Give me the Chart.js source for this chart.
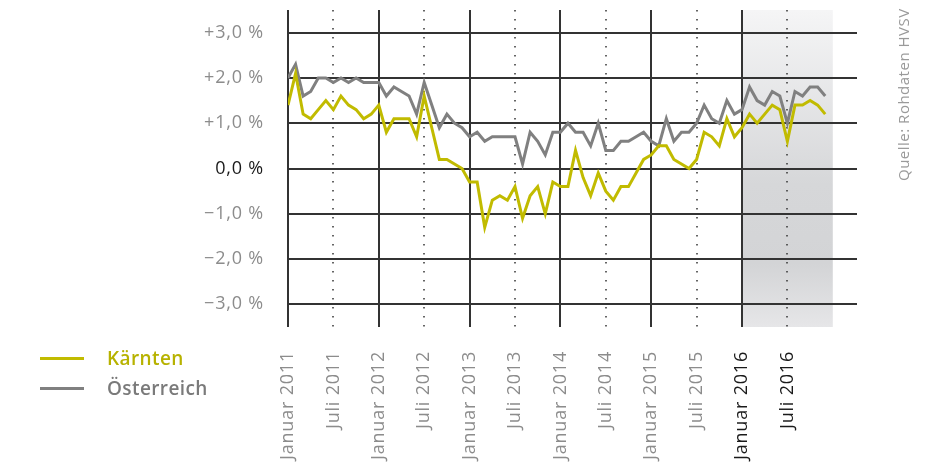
<!DOCTYPE html>
<html lang="de">
<head>
<meta charset="utf-8">
<title>Kärnten / Österreich</title>
<script src="https://cdn.jsdelivr.net/npm/chart.js@4.4.1/dist/chart.umd.min.js"></script>
<style>
  html, body { margin: 0; padding: 0; background: #fff; }
  #wrap { position: relative; width: 928px; height: 465px; overflow: hidden; font-family: 'Open Sans', sans-serif; }
  #chart { position: absolute; left: 0; top: 0; }
  .legend-row { position: absolute; left: 40px; display: flex; align-items: center; font-size: 19px; font-weight: 600;
                letter-spacing: 0.4px; white-space: nowrap; }
  .legend-line { width: 44px; height: 3px; margin-right: 23px; }
  #source { position: absolute; left: 895px; top: 181px; transform: rotate(-90deg); transform-origin: 0 0;
            font-size: 15px; line-height: 16px; letter-spacing: 0.5px; color: #9a9a9a; white-space: nowrap; }
</style>
</head>
<body>
<div id="wrap">
  <canvas id="chart" width="928" height="465"></canvas>
  <div class="legend-row" style="top:345px;color:#b7b200"><div class="legend-line" style="background:#c1bb00"></div>Kärnten</div>
  <div class="legend-row" style="top:375px;color:#7a7a7a"><div class="legend-line" style="background:#808080"></div>Österreich</div>
  <div id="source">Quelle: Rohdaten HVSV</div>
</div>
<script>
// ---- data: monthly change vs. previous year, Jan 2011 .. Dec 2016 ----
const kaernten = [
  1.4, 2.1, 1.2, 1.1, 1.3, 1.5, 1.3, 1.6, 1.4, 1.3, 1.1, 1.2,
  1.4, 0.8, 1.1, 1.1, 1.1, 0.7, 1.6, 0.9, 0.2, 0.2, 0.1, 0.0,
  -0.3, -0.3, -1.3, -0.7, -0.6, -0.7, -0.4, -1.1, -0.6, -0.4, -1.0, -0.3,
  -0.4, -0.4, 0.4, -0.2, -0.6, -0.1, -0.5, -0.7, -0.4, -0.4, -0.1, 0.2,
  0.3, 0.5, 0.5, 0.2, 0.1, 0.0, 0.2, 0.8, 0.7, 0.5, 1.1, 0.7,
  0.9, 1.2, 1.0, 1.2, 1.4, 1.3, 0.6, 1.4, 1.4, 1.5, 1.4, 1.2
];
const oesterreich = [
  2.0, 2.3, 1.6, 1.7, 2.0, 2.0, 1.9, 2.0, 1.9, 2.0, 1.9, 1.9,
  1.9, 1.6, 1.8, 1.7, 1.6, 1.2, 1.9, 1.4, 0.9, 1.2, 1.0, 0.9,
  0.7, 0.8, 0.6, 0.7, 0.7, 0.7, 0.7, 0.1, 0.8, 0.6, 0.3, 0.8,
  0.8, 1.0, 0.8, 0.8, 0.5, 1.0, 0.4, 0.4, 0.6, 0.6, 0.7, 0.8,
  0.6, 0.5, 1.1, 0.6, 0.8, 0.8, 1.0, 1.4, 1.1, 1.0, 1.5, 1.2,
  1.3, 1.8, 1.5, 1.4, 1.7, 1.6, 1.0, 1.7, 1.6, 1.8, 1.8, 1.6
];
const tickMonths = [0, 6, 12, 18, 24, 30, 36, 42, 48, 54, 60, 66];
const tickLabels = ['Januar 2011', 'Juli 2011', 'Januar 2012', 'Juli 2012', 'Januar 2013', 'Juli 2013',
                    'Januar 2014', 'Juli 2014', 'Januar 2015', 'Juli 2015', 'Januar 2016', 'Juli 2016'];
const highlightLabels = ['Januar 2016', 'Juli 2016'];
const yTicks = [-3, -2, -1, 0, 1, 2, 3];
const shadeMonths = [60, 72];   // 2016 highlighted

const COLORS = {
  yellow: '#c1bb00',
  gray:   '#808080',
  grid:   '#333333',
  label:  '#8c8c8c',
  dark:   '#1a1a1a',
};
const FONT = { family: "'Open Sans', sans-serif", size: 18 };

// the reference typeface runs wider than Open Sans, so loosen the canvas text a bit
const spacingPlugin = {
  id: 'spacing',
  beforeUpdate(chart) { chart.ctx.letterSpacing = '0.8px'; },
  beforeDraw(chart) { chart.ctx.letterSpacing = '0.8px'; },
};

// shaded 2016 box + year / half-year lines
const framePlugin = {
  id: 'frame',
  beforeDraw(chart) {
    const { ctx, chartArea: a, scales: { x } } = chart;
    const x0 = x.getPixelForValue(shadeMonths[0]);
    const x1 = x.getPixelForValue(shadeMonths[1]);
    const g = ctx.createLinearGradient(0, a.top, 0, a.bottom);
    g.addColorStop(0, '#f5f5f6');
    g.addColorStop(0.55, '#d6d7d9');
    g.addColorStop(0.8, '#d3d4d6');
    g.addColorStop(1, '#e6e6e8');
    ctx.save();
    ctx.fillStyle = g;
    ctx.fillRect(x0, a.top, x1 - x0, a.bottom - a.top);
    ctx.restore();
  },
  beforeDatasetsDraw(chart) {
    const { ctx, chartArea: a, scales: { x } } = chart;
    ctx.save();
    ctx.strokeStyle = COLORS.grid;
    tickMonths.forEach(m => {
      const px = Math.round(x.getPixelForValue(m));
      ctx.beginPath();
      if (m % 12 === 0) { ctx.lineWidth = 2; ctx.setLineDash([]); }
      else { ctx.lineWidth = 1.5; ctx.setLineDash([1.5, 7.5]); }
      ctx.moveTo(px, a.top);
      ctx.lineTo(px, a.bottom);
      ctx.stroke();
    });
    ctx.restore();
  }
};

const fmtPct = v => (v > 0 ? '+' : v < 0 ? '\u2212' : '') + Math.abs(v).toFixed(1).replace('.', ',') + ' %';

new Chart(document.getElementById('chart'), {
  type: 'line',
  data: {
    datasets: [
      {
        label: 'Kärnten',
        data: kaernten.map((v, i) => ({ x: i, y: v })),
        borderColor: COLORS.yellow,
        borderWidth: 3,
        pointRadius: 0,
        tension: 0,
      },
      {
        label: 'Österreich',
        data: oesterreich.map((v, i) => ({ x: i, y: v })),
        borderColor: COLORS.gray,
        borderWidth: 3,
        pointRadius: 0,
        tension: 0,
      }
    ]
  },
  options: {
    responsive: false,
    animation: false,
    devicePixelRatio: 1,
    layout: { padding: { top: 10, right: 71, left: 0, bottom: 0 } },
    plugins: { legend: { display: false }, tooltip: { enabled: false } },
    scales: {
      x: {
        type: 'linear',
        min: 0,
        max: 75.2,
        grid: { display: false, drawTicks: false },
        border: { display: false },
        afterBuildTicks: s => { s.ticks = tickMonths.map(v => ({ value: v })); },
        afterFit: s => { s.height = 138; s.paddingLeft = 0; s.paddingRight = 0; },
        ticks: {
          autoSkip: false,
          minRotation: 90,
          maxRotation: 90,
          padding: 24,
          font: FONT,
          color: c => highlightLabels.includes(tickLabels[tickMonths.indexOf(c.tick.value)]) ? COLORS.dark : COLORS.label,
          callback: v => tickLabels[tickMonths.indexOf(v)],
        }
      },
      y: {
        min: -3.5,
        max: 3.5,
        grid: { color: COLORS.grid, lineWidth: 2, drawTicks: false },
        border: { display: false },
        afterBuildTicks: s => { s.ticks = yTicks.map(v => ({ value: v })); },
        afterFit: s => { s.width = 288; s.paddingTop = 0; s.paddingBottom = 0; },
        ticks: {
          padding: 24,
          font: FONT,
          color: c => c.tick.value === 0 ? COLORS.dark : COLORS.label,
          callback: fmtPct,
        }
      }
    }
  },
  plugins: [spacingPlugin, framePlugin]
});
</script>
</body>
</html>
